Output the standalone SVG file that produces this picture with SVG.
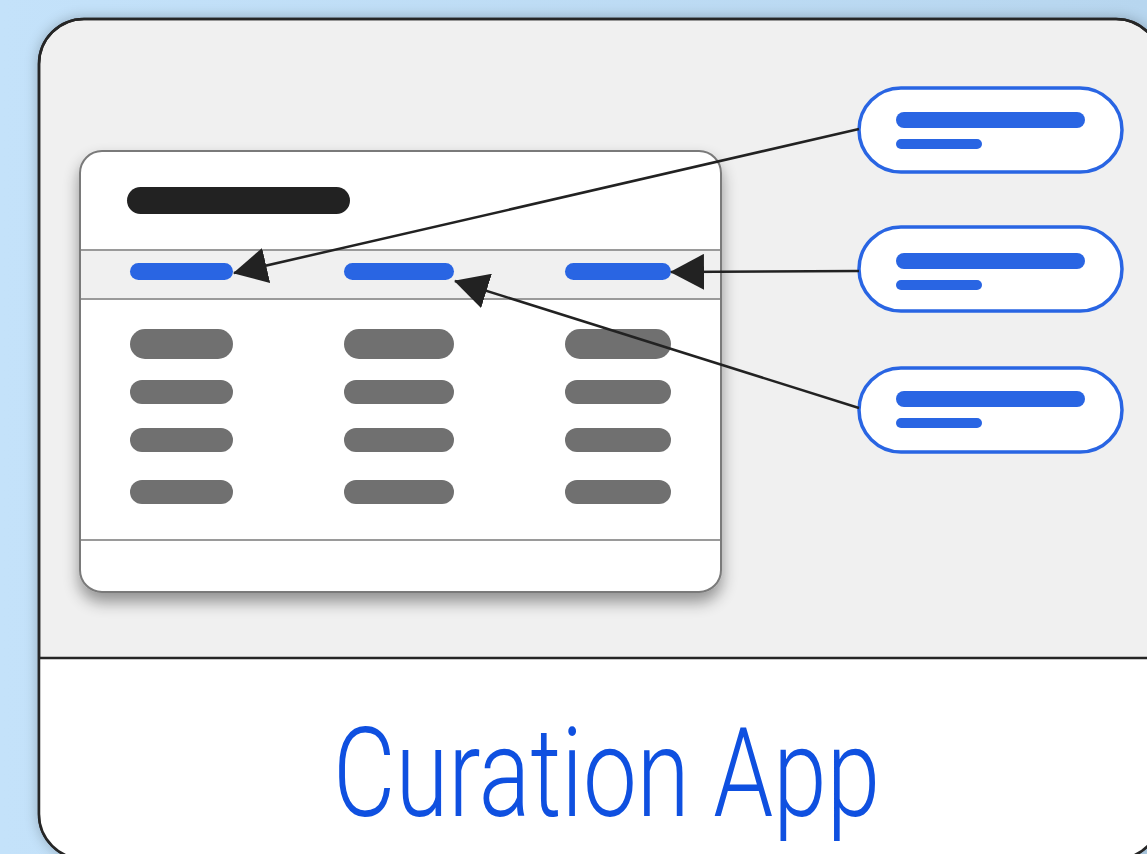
<svg xmlns="http://www.w3.org/2000/svg" width="1147" height="854" viewBox="0 0 1147 854">
<style>
.outer{fill:#f0f0f0;stroke:#262626;stroke-width:2.5}
.card{fill:#fff;stroke:#7a7a7a;stroke-width:2}
.sep{stroke:#9a9a9a;stroke-width:2}
.blue{fill:#2965e3}
.gray{fill:#707070}
.pill{fill:#fff;stroke:#2965e3;stroke-width:3.5}
.conn{stroke:#222;stroke-width:2.5;fill:none}
.label{font-family:Roboto,"Liberation Sans",sans-serif;font-weight:300;font-size:124px;fill:#0f50e0}
</style>
<defs>
<linearGradient id="bg" x1="0" y1="0" x2="1" y2="0">
<stop offset="0" stop-color="#c4e2fa"/>
<stop offset="1" stop-color="#b7d6ef"/>
</linearGradient>
<filter id="sh" x="-10%" y="-10%" width="120%" height="130%">
<feGaussianBlur in="SourceAlpha" stdDeviation="8"/>
<feOffset dx="0" dy="9" result="b"/>
<feComponentTransfer><feFuncA type="linear" slope="0.4"/></feComponentTransfer>
<feMerge><feMergeNode/><feMergeNode in="SourceGraphic"/></feMerge>
</filter>
<filter id="osh" x="-10%" y="-10%" width="120%" height="120%">
<feGaussianBlur in="SourceAlpha" stdDeviation="7"/>
<feComponentTransfer><feFuncA type="linear" slope="0.25"/></feComponentTransfer>
<feMerge><feMergeNode/><feMergeNode in="SourceGraphic"/></feMerge>
</filter>
<clipPath id="oc"><rect x="39" y="19" width="1122" height="840" rx="45"/></clipPath>
<marker id="ah" viewBox="0 0 34 36" refX="33" refY="18" markerWidth="34" markerHeight="36" orient="auto" markerUnits="userSpaceOnUse">
<path d="M0,0 L34,18 L0,36 z" fill="#222"/>
</marker>
</defs>
<rect width="1147" height="854" fill="url(#bg)"/>
<g id="curation-app">
<rect class="outer" x="39" y="19" width="1122" height="840" rx="45" filter="url(#osh)"/>
<rect x="39" y="658" width="1122" height="201" fill="#fff" clip-path="url(#oc)"/>
<rect x="39" y="19" width="1122" height="840" rx="45" fill="none" stroke="#262626" stroke-width="2.5"/>
<line x1="39" y1="658" x2="1161" y2="658" stroke="#262626" stroke-width="2.5"/>
<text class="label" x="606.5" y="816" text-anchor="middle" textLength="547" lengthAdjust="spacingAndGlyphs">Curation App</text>
</g>
<g id="table-card">
<rect class="card" x="80" y="151" width="641" height="441" rx="22" filter="url(#sh)"/>
<rect x="81" y="250" width="639" height="49" fill="#f0f0f0"/>
<line class="sep" x1="81" y1="250" x2="720" y2="250"/>
<line class="sep" x1="81" y1="299" x2="720" y2="299"/>
<line class="sep" x1="81" y1="540" x2="720" y2="540"/>
<rect x="127" y="187" width="223" height="27" rx="13.5" fill="#222"/>
<rect class="blue" x="130" y="263" width="103" height="17" rx="8.5"/>
<rect class="blue" x="344" y="263" width="110" height="17" rx="8.5"/>
<rect class="blue" x="565" y="263" width="106" height="17" rx="8.5"/>
<rect class="gray" x="130" y="329" width="103" height="30" rx="15"/>
<rect class="gray" x="344" y="329" width="110" height="30" rx="15"/>
<rect class="gray" x="565" y="329" width="106" height="30" rx="15"/>
<rect class="gray" x="130" y="380" width="103" height="24" rx="12"/>
<rect class="gray" x="344" y="380" width="110" height="24" rx="12"/>
<rect class="gray" x="565" y="380" width="106" height="24" rx="12"/>
<rect class="gray" x="130" y="428" width="103" height="24" rx="12"/>
<rect class="gray" x="344" y="428" width="110" height="24" rx="12"/>
<rect class="gray" x="565" y="428" width="106" height="24" rx="12"/>
<rect class="gray" x="130" y="480" width="103" height="24" rx="12"/>
<rect class="gray" x="344" y="480" width="110" height="24" rx="12"/>
<rect class="gray" x="565" y="480" width="106" height="24" rx="12"/>
</g>
<g id="item-1">
<rect class="pill" x="859" y="88" width="263" height="84" rx="42"/>
<rect class="blue" x="896" y="112" width="189" height="16" rx="8"/>
<rect class="blue" x="896" y="139" width="86" height="10" rx="5"/>
</g>
<g id="item-2">
<rect class="pill" x="859" y="227" width="263" height="84" rx="42"/>
<rect class="blue" x="896" y="253" width="189" height="16" rx="8"/>
<rect class="blue" x="896" y="280" width="86" height="10" rx="5"/>
</g>
<g id="item-3">
<rect class="pill" x="859" y="368" width="263" height="84" rx="42"/>
<rect class="blue" x="896" y="391" width="189" height="16" rx="8"/>
<rect class="blue" x="896" y="418" width="86" height="10" rx="5"/>
</g>
<g id="connectors">
<line class="conn" x1="859" y1="129" x2="234" y2="273" marker-end="url(#ah)"/>
<line class="conn" x1="859" y1="271" x2="671" y2="272" marker-end="url(#ah)"/>
<line class="conn" x1="859" y1="408" x2="455" y2="281" marker-end="url(#ah)"/>
</g>
</svg>
